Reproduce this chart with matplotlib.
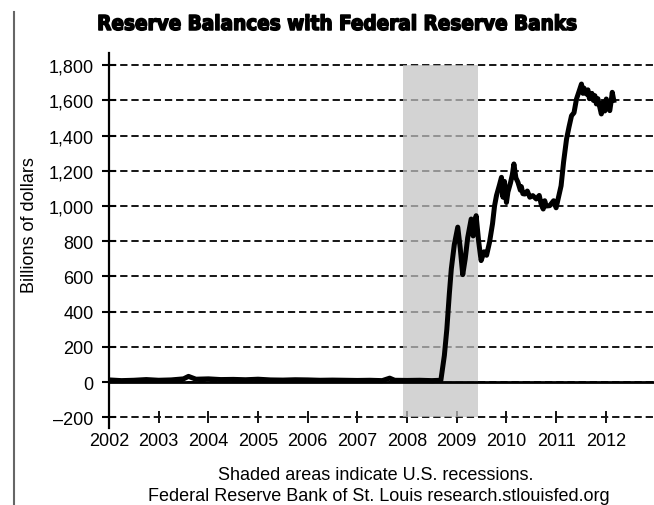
import matplotlib
matplotlib.use("Agg")
import matplotlib.pyplot as plt
import matplotlib.patheffects as pe
from matplotlib import font_manager
from matplotlib.lines import Line2D

# weekly-ish reserve balances, billions of dollars
dates = [2002.0, 2002.25, 2002.5, 2002.75, 2003.0, 2003.25, 2003.5, 2003.6,
         2003.75, 2004.0, 2004.25, 2004.5, 2004.75, 2005.0, 2005.25, 2005.5,
         2005.75, 2006.0, 2006.25, 2006.5, 2006.75, 2007.0, 2007.25, 2007.5,
         2007.65, 2007.75, 2008.0, 2008.25, 2008.5, 2008.68,
         2008.75, 2008.8, 2008.85, 2008.89, 2008.95, 2009.02, 2009.07, 2009.12,
         2009.17, 2009.22, 2009.29, 2009.33, 2009.39, 2009.44, 2009.49, 2009.55,
         2009.6, 2009.66, 2009.72, 2009.76, 2009.8, 2009.86, 2009.9, 2009.93,
         2009.96, 2010.0, 2010.03, 2010.08, 2010.12, 2010.15, 2010.19, 2010.23,
         2010.28, 2010.3, 2010.33, 2010.37, 2010.42, 2010.47, 2010.53, 2010.6,
         2010.66, 2010.7, 2010.74, 2010.77, 2010.8, 2010.87, 2010.95, 2011.0,
         2011.04, 2011.1, 2011.15, 2011.21, 2011.26, 2011.31, 2011.36, 2011.41,
         2011.46, 2011.51, 2011.54, 2011.56, 2011.61, 2011.64, 2011.67, 2011.72,
         2011.75, 2011.78, 2011.81, 2011.84, 2011.88, 2011.91, 2011.95, 2011.98,
         2012.01, 2012.05, 2012.08, 2012.11, 2012.13, 2012.16]
reserves = [12, 8, 10, 14, 10, 12, 18, 32,
            16, 18, 14, 15, 13, 16, 12, 11,
            13, 12, 10, 11, 10, 9, 10, 8,
            22, 10, 9, 10, 8, 10,
            150, 300, 500, 642, 780, 880, 760, 610,
            700, 820, 926, 830, 945, 800, 690, 740,
            720, 795, 900, 1000, 1060, 1120, 1163, 1050,
            1140, 1020, 1080, 1130, 1180, 1239, 1160, 1136,
            1090, 1110, 1070, 1068, 1085, 1050, 1059, 1040,
            1060, 1010, 983, 1030, 1000, 1002, 1030, 990,
            1040, 1115, 1250, 1381, 1450, 1513, 1530, 1608,
            1650, 1693, 1640, 1670, 1636, 1660, 1610, 1640,
            1600, 1627, 1580, 1610, 1560, 1523, 1590, 1540,
            1608, 1560, 1542, 1600, 1646, 1600]

recession_start = 2007.92
recession_end = 2009.42
year_ticks = list(range(2002, 2013))
y_ticks = list(range(-200, 1801, 200))

condensed = any(f.name == "DejaVu Sans" and f.stretch == "condensed"
                and f.weight in ("bold", 700) for f in font_manager.fontManager.ttflist)
title_size = 14.8 if condensed else 12.9
plt.rcParams["font.family"] = ["Liberation Sans", "DejaVu Sans"]

fig = plt.figure(figsize=(6.54, 5.06), dpi=100)
ax = fig.add_axes([109 / 654, 0.1526, 545 / 654, 0.7409])

ax.set_xlim(2002, 2012.97)
ax.set_ylim(-260, 1870)

ax.fill_betweenx([-200, 1800], recession_start, recession_end,
                 color="#c2c2c2", alpha=0.72, lw=0, zorder=1)
ax.axhline(0, color="black", lw=2, zorder=2)
ax.plot(dates, reserves, color="black", lw=3.6, solid_joinstyle="round", zorder=3)

ax.set_yticks(y_ticks)
ax.set_yticklabels(["\u2013200" if v < 0 else f"{v:,}" for v in y_ticks])
ax.set_xticks(year_ticks)
ax.set_xticklabels([str(y) for y in year_ticks])

ax.set_axisbelow(True)
ax.yaxis.grid(True, color="#151515", lw=1.4, linestyle=(0, (3.75, 2)))

for side in ["top", "right"]:
    ax.spines[side].set_visible(False)
ax.spines["bottom"].set_position(("data", -200))
ax.spines["bottom"].set_visible(False)
ax.spines["left"].set_linewidth(1.6)

ax.tick_params(axis="y", direction="inout", length=10, width=1.5, pad=6, labelsize=13)
ax.tick_params(axis="x", direction="inout", length=9, width=1.3, pad=6, labelsize=13)

fig.text(0.515, 1 - 31 / 506, "Reserve Balances with Federal Reserve Banks",
         ha="center", va="baseline", fontsize=title_size, fontweight="bold",
         family="DejaVu Sans", fontstretch="condensed",
         path_effects=[pe.withStroke(linewidth=1.1, foreground="black")])
fig.text(30 / 654, 1 - 225 / 506, "Billions of dollars", rotation=90,
         ha="center", va="center", fontsize=13)
fig.text(218 / 654, 1 - 476 / 506, "Shaded areas indicate U.S. recessions.",
         ha="left", va="center", fontsize=13)
fig.text(148 / 654, 1 - 497 / 506,
         "Federal Reserve Bank of St. Louis research.stlouisfed.org",
         ha="left", va="center", fontsize=13)

# page edge from the scanned source
fig.add_artist(Line2D([14 / 654, 14 / 654], [0, 1 - 13 / 506],
                      color="#666666", lw=1.5))

fig.savefig("out.png", dpi=100)
